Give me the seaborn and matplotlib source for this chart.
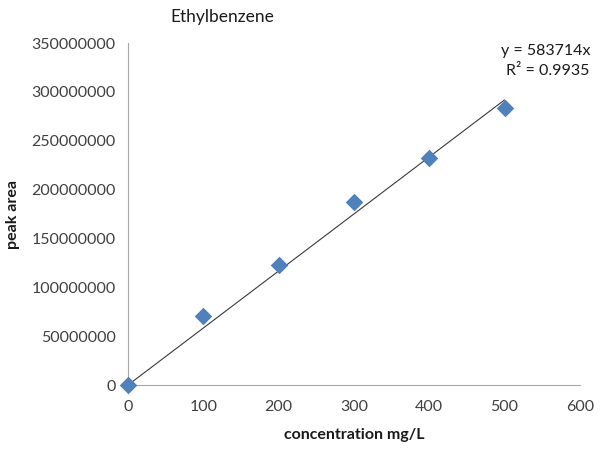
import matplotlib
matplotlib.use("Agg")
import matplotlib.pyplot as plt
import seaborn as sns
import numpy as np
import pandas as pd

concentration = [0, 100, 200, 300, 400, 500]
peak_area = [0, 70600000, 122500000, 187000000, 232000000, 284000000]
slope = 583714
r_squared = 0.9935
x_ticks = [0, 100, 200, 300, 400, 500, 600]
y_ticks = [0, 50000000, 100000000, 150000000, 200000000, 250000000, 300000000, 350000000]

sns.set_style("white")
plt.rcParams["font.family"] = ["Lato", "DejaVu Sans"]

df = pd.DataFrame({"concentration": concentration, "peak_area": peak_area})

fig = plt.figure(figsize=(6.04, 4.49), dpi=100)
ax = fig.add_axes([0.212, 0.1425, 0.748, 0.7615])

# linear trendline through the origin
fit_x = np.array([0, concentration[-1]])
ax.plot(fit_x, slope * fit_x, color="#3a3a3a", lw=0.8, zorder=2)

sns.scatterplot(data=df, x="concentration", y="peak_area", marker="D", s=80,
                color="#4F81BD", edgecolor="#4F81BD", linewidth=0, ax=ax, zorder=3)
for coll in ax.collections:
    coll.set_clip_on(False)

ax.set_xlim(0, 600)
ax.set_ylim(0, 350000000)
ax.set_xticks(x_ticks)
ax.set_yticks(y_ticks)
ax.set_xticklabels([str(v) for v in x_ticks])
ax.set_yticklabels([str(v) for v in y_ticks])
ax.tick_params(axis="both", which="major", direction="out", length=5, width=0.8,
               color="#a6a6a6", labelsize=11.5, labelcolor="#404040", pad=4)
ax.tick_params(axis="x", pad=6)

for side in ["top", "right"]:
    ax.spines[side].set_visible(False)
for side in ["left", "bottom"]:
    ax.spines[side].set_color("#a6a6a6")
    ax.spines[side].set_linewidth(0.8)

ax.set_xlabel("concentration mg/L", fontsize=11.5, fontweight="bold", color="#1a1a1a", labelpad=10)
ax.set_ylabel("peak area", fontsize=11.5, fontweight="bold", color="#1a1a1a", labelpad=8)

fig.text(0.368, 0.962, "Ethylbenzene", ha="center", va="center", fontsize=12.5, color="#1a1a1a")
fig.text(0.978, 0.886, f"y = {slope}x", ha="right", va="center", fontsize=11.5, color="#1a1a1a")
fig.text(0.975, 0.842, f"R² = {r_squared}", ha="right", va="center", fontsize=11.5, color="#1a1a1a")

fig.savefig("out.png", dpi=100)
